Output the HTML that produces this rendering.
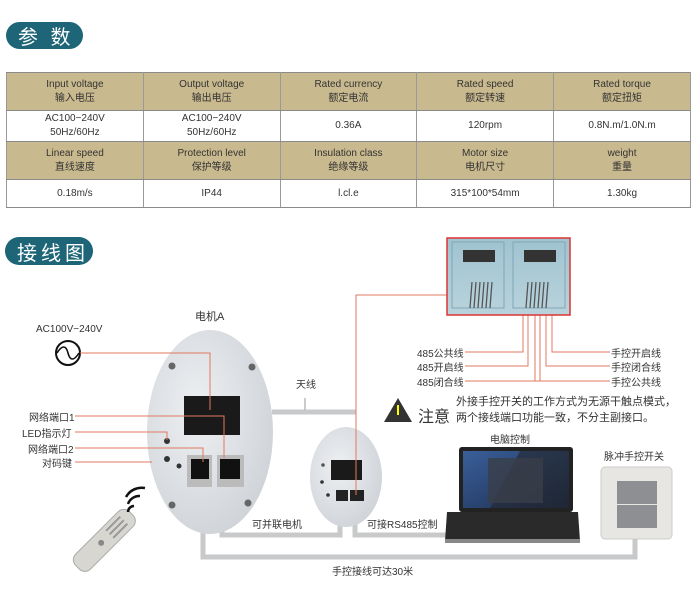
<!DOCTYPE html>
<html><head><meta charset="utf-8"><style>
body{margin:0;width:700px;height:611px;background:#fff;position:relative;overflow:hidden;font-family:"Liberation Sans","Noto Sans CJK SC",sans-serif;}
.badge{position:absolute;background:#1d6577;color:#fff;border-radius:14px;font-size:20px;font-family:"Noto Sans CJK SC",sans-serif;display:flex;align-items:center;padding-left:12px;box-sizing:border-box;letter-spacing:4px;}
table{position:absolute;left:6px;top:72px;width:685px;border-collapse:collapse;font-size:10px;color:#333;text-align:center;}
td{border:1px solid #8a8a8a;border-left:1px solid #999;border-right:1px solid #999;line-height:14px;padding:0;width:137px;}
tr.h td{background:#c9b98e;height:37px;}
tr.w td{background:#fff;}
.t{position:absolute;font-size:10px;color:#333;white-space:nowrap;font-family:"Liberation Sans","Noto Sans CJK SC",sans-serif;}
</style></head><body>
<div class="badge" style="left:6px;top:22px;width:77px;height:27px;">参 数</div>
<table>
<tr class="h"><td>Input voltage<br>输入电压</td><td>Output voltage<br>输出电压</td><td>Rated currency<br>额定电流</td><td>Rated speed<br>额定转速</td><td>Rated torque<br>额定扭矩</td></tr>
<tr class="w"><td style="height:30px">AC100−240V<br>50Hz/60Hz</td><td>AC100−240V<br>50Hz/60Hz</td><td>0.36A</td><td>120rpm</td><td>0.8N.m/1.0N.m</td></tr>
<tr class="h"><td>Linear speed<br>直线速度</td><td>Protection level<br>保护等级</td><td>Insulation class<br>绝缘等级</td><td>Motor size<br>电机尺寸</td><td>weight<br>重量</td></tr>
<tr class="w"><td style="height:27px">0.18m/s</td><td>IP44</td><td>l.cl.e</td><td>315*100*54mm</td><td>1.30kg</td></tr>
</table>
<div class="badge" style="left:5px;top:237px;width:88px;height:28px;">接线图</div>

<svg width="700" height="611" style="position:absolute;left:0;top:0" xmlns="http://www.w3.org/2000/svg">
<defs>
<radialGradient id="og" cx="0.4" cy="0.4" r="0.7"><stop offset="0" stop-color="#eef0f3"/><stop offset="1" stop-color="#cdd1d6"/></radialGradient>
<linearGradient id="bl" x1="0" y1="0" x2="0" y2="1"><stop offset="0" stop-color="#9fc3d0"/><stop offset="1" stop-color="#b9d3dc"/></linearGradient>
<linearGradient id="scr" x1="0" y1="0" x2="1" y2="1"><stop offset="0" stop-color="#3a5f9a"/><stop offset="1" stop-color="#1c2c4c"/></linearGradient>
</defs>
<!-- gray cables -->
<g fill="none" stroke="#c8c9cb" stroke-width="5">
<polyline points="203,485 203,557 635,557 635,538"/>
<polyline points="222,485 222,535 340,535 340,500"/>
<polyline points="355,500 355,535 462,535"/>
<line x1="272" y1="412" x2="356" y2="412"/>
</g>
<!-- big motor -->
<ellipse cx="210" cy="432" rx="63" ry="102" fill="url(#og)"/>
<circle cx="172" cy="366" r="3.5" fill="#666"/><circle cx="252" cy="367" r="3.5" fill="#666"/>
<circle cx="172" cy="505" r="3.5" fill="#666"/><circle cx="248" cy="503" r="3.5" fill="#666"/>
<rect x="184" y="396" width="56" height="39" fill="#1a1a1a"/>
<circle cx="167" cy="441" r="3" fill="#333"/><circle cx="167" cy="459" r="3" fill="#333"/><circle cx="179" cy="466" r="2.5" fill="#333"/>
<rect x="187" y="455" width="25" height="32" fill="#bbb"/><rect x="191" y="459" width="18" height="20" fill="#111"/>
<rect x="217" y="455" width="27" height="32" fill="#bbb"/><rect x="220" y="459" width="20" height="20" fill="#111"/>
<!-- small motor -->
<ellipse cx="346" cy="477" rx="36" ry="50" fill="url(#og)"/>
<rect x="331" y="460" width="31" height="20" fill="#1a1a1a"/>
<rect x="336" y="490" width="12" height="11" fill="#222"/><rect x="350" y="490" width="14" height="11" fill="#222"/>
<circle cx="322" cy="482" r="1.8" fill="#333"/><circle cx="328" cy="495" r="1.8" fill="#333"/><circle cx="323" cy="465" r="1.8" fill="#555"/>
<!-- AC symbol -->
<circle cx="68" cy="353" r="12" fill="#fff" stroke="#111" stroke-width="2"/>
<path d="M57,353 C62,345 66,345 68,353 C70,361 74,361 79,353" fill="none" stroke="#111" stroke-width="1.6"/>
<!-- red lines -->
<g fill="none" stroke="#e07a5f" stroke-width="1">
<polyline points="80,353 210,353 210,410"/>
<polyline points="75,416 224,416 224,458"/>
<polyline points="75,432 167,432 167,440"/>
<polyline points="75,448 203,448 203,462"/>
<line x1="75" y1="462" x2="152" y2="462"/>
<polyline points="356,495 356,295 447,295"/>
<line x1="305" y1="398" x2="305" y2="410" stroke="#999"/>
<polyline points="465,352 523,352 523,315"/>
<polyline points="465,366 528,366 528,315"/>
<polyline points="465,381 540,381 540,315"/>
<polyline points="610,352 552,352 552,315"/>
<polyline points="610,366 546,366 546,315"/>
<polyline points="610,381 535,381 535,315"/>
</g>
<!-- RJ closeup -->
<rect x="447" y="238" width="123" height="77" fill="url(#bl)" stroke="#d33" stroke-width="1.5"/>
<rect x="463" y="250" width="32" height="12" fill="#333"/><rect x="524" y="250" width="32" height="12" fill="#333"/>
<rect x="452" y="242" width="52" height="66" fill="none" stroke="#7fa6b5"/><rect x="513" y="242" width="52" height="66" fill="none" stroke="#7fa6b5"/>
<g stroke="#555" stroke-width="1.3">
<line x1="472" y1="282" x2="470" y2="308"/><line x1="476" y1="282" x2="474" y2="308"/><line x1="480" y1="282" x2="478" y2="308"/><line x1="484" y1="282" x2="482" y2="308"/><line x1="488" y1="282" x2="486" y2="308"/><line x1="492" y1="282" x2="490" y2="308"/>
<line x1="528" y1="282" x2="526" y2="308"/><line x1="532" y1="282" x2="530" y2="308"/><line x1="536" y1="282" x2="534" y2="308"/><line x1="540" y1="282" x2="538" y2="308"/><line x1="544" y1="282" x2="542" y2="308"/><line x1="548" y1="282" x2="546" y2="308"/>
</g>
<!-- warning -->
<polygon points="398,398 412,422 384,422" fill="#333"/>
<rect x="397" y="405" width="2" height="10" fill="#ff0"/>
<!-- laptop -->
<rect x="459" y="447" width="114" height="65" rx="3" fill="#222"/>
<rect x="463" y="451" width="106" height="57" fill="url(#scr)"/>
<polygon points="520,451 569,451 569,508 490,508" fill="#222" opacity="0.55"/>
<rect x="488" y="458" width="55" height="45" fill="#3a3f48" opacity="0.8"/>
<polygon points="447,512 578,512 580,541 445,541" fill="#2a2a2a"/>
<rect x="445" y="539" width="135" height="4" fill="#888"/>
<!-- switch -->
<rect x="601" y="467" width="71" height="72" rx="4" fill="#e8e6e2" stroke="#ccc"/>
<rect x="617" y="481" width="40" height="23" fill="#8d8f92"/><rect x="617" y="505" width="40" height="23" fill="#8d8f92"/>
<!-- remote -->
<g transform="translate(104,540) rotate(-45)">
<rect x="-38" y="-10" width="76" height="21" rx="8" fill="#d8d6d0" stroke="#aaa"/>
<rect x="8" y="-6" width="20" height="2" fill="#999"/><rect x="8" y="-1" width="20" height="2" fill="#999"/><rect x="8" y="4" width="20" height="2" fill="#999"/>
<circle cx="-4" cy="0" r="3" fill="#888"/>
</g>
<g fill="none" stroke="#111" stroke-width="2.5">
<path d="M128,512 a6,6 0 0,1 6,-6"/><path d="M128,504 a12,12 0 0,1 12,-8" /><path d="M126,497 a18,18 0 0,1 19,-9"/>
</g>
</svg>

<div class="t" style="left:195px;top:308px;font-size:11px;">电机A</div>
<div class="t" style="left:36px;top:324px;font-size:10px;">AC100V−240V</div>
<div class="t" style="left:29px;top:409px;">网络端口1</div>
<div class="t" style="left:22px;top:425px;">LED指示灯</div>
<div class="t" style="left:28px;top:441px;">网络端口2</div>
<div class="t" style="left:42px;top:455px;">对码键</div>
<div class="t" style="left:296px;top:376px;">天线</div>
<div class="t" style="left:252px;top:516px;">可并联电机</div>
<div class="t" style="left:367px;top:516px;">可接RS485控制</div>
<div class="t" style="left:332px;top:563px;">手控接线可达30米</div>
<div class="t" style="left:417px;top:345px;">485公共线</div>
<div class="t" style="left:417px;top:359px;">485开启线</div>
<div class="t" style="left:417px;top:374px;">485闭合线</div>
<div class="t" style="left:611px;top:345px;">手控开启线</div>
<div class="t" style="left:611px;top:359px;">手控闭合线</div>
<div class="t" style="left:611px;top:374px;">手控公共线</div>
<div class="t" style="left:418px;top:403px;font-size:16px;">注意</div>
<div class="t" style="left:456px;top:393px;font-size:11px;">外接手控开关的工作方式为无源干触点模式，</div>
<div class="t" style="left:456px;top:409px;font-size:11px;">两个接线端口功能一致，不分主副接口。</div>
<div class="t" style="left:490px;top:431px;">电脑控制</div>
<div class="t" style="left:604px;top:448px;">脉冲手控开关</div>
</body></html>
